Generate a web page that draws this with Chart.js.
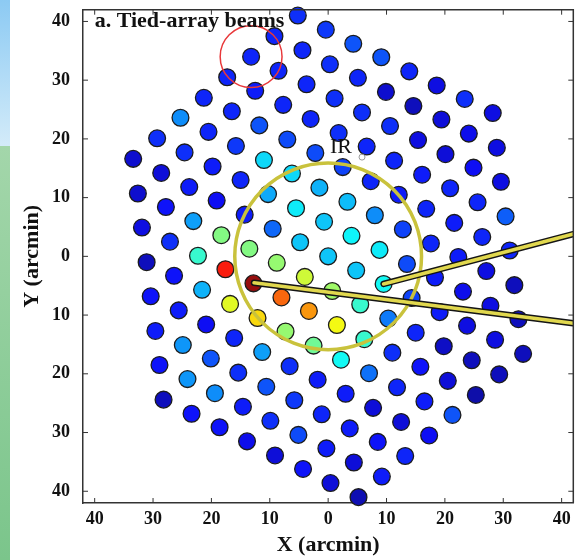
<!DOCTYPE html>
<html>
<head>
<meta charset="utf-8">
<script src="https://cdn.jsdelivr.net/npm/chart.js@4.4.0/dist/chart.umd.min.js"></script>
<style>
html, body { margin: 0; padding: 0; width: 580px; height: 560px; overflow: hidden; background: #fff; }
#wrap { position: absolute; left: 0; top: 0; width: 583px; height: 560px; }
#stripBlue { position: absolute; left: 0; top: 0; width: 10px; height: 146px;
  background: linear-gradient(to bottom, #8ccaf3, #d3ebf9); }
#stripGreen { position: absolute; left: 0; top: 146px; width: 10px; height: 414px;
  background: linear-gradient(to bottom, #a3d6aa, #7bc58b); }
</style>
</head>
<body>
<div id="stripBlue"></div>
<div id="stripGreen"></div>
<div id="wrap"><canvas id="myChart" width="583" height="560"></canvas></div>
<script>
// beam centres in arcmin (upper-left to lower-right rows)
var beamX = [
  -5.2, -0.4, 4.3, 9.1, 13.9, 18.6, 23.4, 28.2,
  -9.2, -4.4, 0.3, 5.1, 9.9, 14.6, 19.4, 24.1, 28.9,
  -13.2, -8.5, -3.7, 1.1, 5.8, 10.6, 15.4, 20.1, 24.9, 29.6,
  -17.3, -12.5, -7.7, -3.0, 1.8, 6.6, 11.3, 16.1, 20.9, 25.6, 30.4,
  -21.3, -16.5, -11.8, -7.0, -2.2, 2.5, 7.3, 12.1, 16.8, 21.6, 26.4, 31.1,
  -25.3, -20.5, -15.8, -11.0, -6.2, -1.5, 3.3, 8.0, 12.8, 17.6, 22.3, 27.1, 31.9,
  -29.3, -24.6, -19.8, -15.0, -10.3, -5.5, -0.7, 4.0, 8.8, 13.5, 18.3, 23.1, 27.8, 32.6,
  -33.4, -28.6, -23.8, -19.1, -14.3, -9.5, -4.8, 0.0, 4.8, 9.5, 14.3, 19.1, 23.8, 28.6, 33.4,
  -32.6, -27.8, -23.1, -18.3, -13.5, -8.8, -4.0, 0.7, 5.5, 10.3, 15.0, 19.8, 24.6, 29.3,
  -31.9, -27.1, -22.3, -17.6, -12.8, -8.0, -3.3, 1.5, 6.2, 11.0, 15.8, 20.5, 25.3,
  -31.1, -26.4, -21.6, -16.8, -12.1, -7.3, -2.5, 2.2, 7.0, 11.8, 16.5, 21.3,
  -30.4, -25.6, -20.9, -16.1, -11.3, -6.6, -1.8, 3.0, 7.7, 12.5, 17.3,
  -29.6, -24.9, -20.1, -15.4, -10.6, -5.8, -1.1, 3.7, 8.5, 13.2,
  -28.9, -24.1, -19.4, -14.6, -9.9, -5.1, -0.3, 4.4, 9.2,
  -28.2, -23.4, -18.6, -13.9, -9.1, -4.3, 0.4, 5.2
];
var beamY = [
  41.0, 38.6, 36.2, 33.9, 31.5, 29.1, 26.8, 24.4,
  37.5, 35.1, 32.7, 30.4, 28.0, 25.6, 23.3, 20.9, 18.5,
  34.0, 31.6, 29.3, 26.9, 24.5, 22.2, 19.8, 17.4, 15.1, 12.7,
  30.5, 28.2, 25.8, 23.4, 21.0, 18.7, 16.3, 13.9, 11.6, 9.2, 6.8,
  27.0, 24.7, 22.3, 19.9, 17.6, 15.2, 12.8, 10.5, 8.1, 5.7, 3.3, 1.0,
  23.6, 21.2, 18.8, 16.4, 14.1, 11.7, 9.3, 7.0, 4.6, 2.2, -0.1, -2.5, -4.9,
  20.1, 17.7, 15.3, 13.0, 10.6, 8.2, 5.9, 3.5, 1.1, -1.3, -3.6, -6.0, -8.4, -10.7,
  16.6, 14.2, 11.8, 9.5, 7.1, 4.7, 2.4, 0.0, -2.4, -4.7, -7.1, -9.5, -11.8, -14.2, -16.6,
  10.7, 8.4, 6.0, 3.6, 1.3, -1.1, -3.5, -5.9, -8.2, -10.6, -13.0, -15.3, -17.7, -20.1,
  4.9, 2.5, 0.1, -2.2, -4.6, -7.0, -9.3, -11.7, -14.1, -16.4, -18.8, -21.2, -23.6,
  -1.0, -3.3, -5.7, -8.1, -10.5, -12.8, -15.2, -17.6, -19.9, -22.3, -24.7, -27.0,
  -6.8, -9.2, -11.6, -13.9, -16.3, -18.7, -21.0, -23.4, -25.8, -28.2, -30.5,
  -12.7, -15.1, -17.4, -19.8, -22.2, -24.5, -26.9, -29.3, -31.6, -34.0,
  -18.5, -20.9, -23.3, -25.6, -28.0, -30.4, -32.7, -35.1, -37.5,
  -24.4, -26.8, -29.1, -31.5, -33.9, -36.2, -38.6, -41.0
];
// colour index of each beam (0 = dark blue ... 1 = dark red, jet map)
var beamPower = [
  0.16, 0.17, 0.20, 0.20, 0.15, 0.10, 0.16, 0.10,
  0.15, 0.15, 0.16, 0.15, 0.08, 0.06, 0.09, 0.11, 0.10,
  0.15, 0.15, 0.15, 0.16, 0.16, 0.16, 0.10, 0.09, 0.12, 0.10,
  0.15, 0.14, 0.15, 0.15, 0.16, 0.15, 0.15, 0.14, 0.15, 0.15, 0.21,
  0.15, 0.15, 0.20, 0.19, 0.19, 0.18, 0.15, 0.14, 0.15, 0.14, 0.15, 0.15,
  0.26, 0.15, 0.17, 0.34, 0.34, 0.30, 0.31, 0.26, 0.18, 0.15, 0.14, 0.10, 0.06,
  0.16, 0.16, 0.14, 0.15, 0.29, 0.36, 0.32, 0.37, 0.36, 0.19, 0.14, 0.11, 0.10, 0.06,
  0.08, 0.09, 0.14, 0.12, 0.14, 0.22, 0.32, 0.32, 0.32, 0.38, 0.18, 0.14, 0.10, 0.10, 0.06,
  0.08, 0.13, 0.28, 0.50, 0.50, 0.52, 0.58, 0.53, 0.42, 0.24, 0.15, 0.07, 0.06, 0.06,
  0.10, 0.16, 0.42, 0.86, 0.98, 0.78, 0.73, 0.62, 0.42, 0.16, 0.13, 0.09, 0.04,
  0.06, 0.13, 0.30, 0.60, 0.66, 0.52, 0.48, 0.38, 0.23, 0.15, 0.14, 0.20,
  0.13, 0.14, 0.12, 0.15, 0.28, 0.16, 0.14, 0.14, 0.09, 0.09, 0.12,
  0.14, 0.27, 0.20, 0.16, 0.20, 0.17, 0.15, 0.14, 0.13, 0.15,
  0.13, 0.27, 0.26, 0.14, 0.16, 0.19, 0.14, 0.09, 0.14,
  0.06, 0.13, 0.13, 0.11, 0.09, 0.13, 0.09, 0.05
];

var tickValues = [-40, -30, -20, -10, 0, 10, 20, 30, 40];

// yellow field circle, red reference circle (arcmin)
var ringCentre = [0, 0];
var ringRadius = 16;
var refCentre = [-13.2, 34.0];
var refRadius = 5.3;

// the two pointer lines
var lineAX = [-12.7, 42];
var lineAY = [-4.5, -11.4];
var lineBX = [9.5, 42];
var lineBY = [-4.7, 3.8];

// jet colour map, toned down a touch like the printed figure
var jet = function(v) {
    var c = function(t) {
        var k = Math.max(0, Math.min(1, t));
        return Math.round(255 * k * 0.92 + 14);
    };
    var r = c(Math.min(4 * v - 1.5, -4 * v + 4.5));
    var g = c(Math.min(4 * v - 0.5, -4 * v + 3.5));
    var b = c(Math.min(4 * v + 0.5, -4 * v + 2.5));
    return 'rgb(' + r + ',' + g + ',' + b + ')';
};

var toPoints = function(xs, ys) {
    return xs.map(function(x, i) { return {x: x, y: ys[i]}; });
};

var tickFont = {family: 'Liberation Serif', weight: 'bold', size: 18};
var titleFont = {family: 'Liberation Serif', weight: 'bold', size: 22};

var overlays = {
    id: 'overlays',
    afterDatasetDraw: function(chart, args) {
        if (args.index !== 0) return;
        var ctx = chart.ctx, xs = chart.scales.x, ys = chart.scales.y;
        var pxPerUnit = xs.getPixelForValue(1) - xs.getPixelForValue(0);
        ctx.save();
        ctx.beginPath();
        ctx.arc(xs.getPixelForValue(ringCentre[0]), ys.getPixelForValue(ringCentre[1]),
            ringRadius * pxPerUnit, 0, Math.PI * 2);
        ctx.strokeStyle = '#c9c23c';
        ctx.lineWidth = 3.5;
        ctx.stroke();
        ctx.beginPath();
        ctx.arc(xs.getPixelForValue(refCentre[0]), ys.getPixelForValue(refCentre[1]),
            refRadius * pxPerUnit, 0, Math.PI * 2);
        ctx.strokeStyle = '#e8383a';
        ctx.lineWidth = 1.5;
        ctx.stroke();
        ctx.restore();
    },
    afterDraw: function(chart) {
        var ctx = chart.ctx, xs = chart.scales.x, ys = chart.scales.y;
        var a = chart.chartArea;
        ctx.save();
        // top / right frame and inward ticks
        ctx.strokeStyle = '#333';
        ctx.lineWidth = 1.5;
        ctx.beginPath();
        ctx.moveTo(a.left, a.top); ctx.lineTo(a.right, a.top); ctx.lineTo(a.right, a.bottom);
        ctx.stroke();
        ctx.lineWidth = 1;
        ctx.beginPath();
        tickValues.forEach(function(v) {
            var px = xs.getPixelForValue(v), py = ys.getPixelForValue(v);
            ctx.moveTo(px, a.bottom); ctx.lineTo(px, a.bottom - 5);
            ctx.moveTo(px, a.top); ctx.lineTo(px, a.top + 5);
            ctx.moveTo(a.left, py); ctx.lineTo(a.left + 5, py);
            ctx.moveTo(a.right, py); ctx.lineTo(a.right - 5, py);
        });
        ctx.stroke();
        // panel label
        ctx.fillStyle = '#111';
        ctx.font = 'bold 22px "Liberation Serif"';
        ctx.textBaseline = 'alphabetic';
        ctx.fillText('a. Tied-array beams', xs.getPixelForValue(-40.0), ys.getPixelForValue(39.0));
        // IR label with small circle
        ctx.font = '22px "Liberation Serif"';
        ctx.fillText('IR', xs.getPixelForValue(0.3), ys.getPixelForValue(17.6));
        ctx.beginPath();
        ctx.arc(xs.getPixelForValue(5.8), ys.getPixelForValue(16.9), 3, 0, Math.PI * 2);
        ctx.strokeStyle = '#999';
        ctx.lineWidth = 1;
        ctx.stroke();
        ctx.restore();
    }
};

var lineSet = function(xs, ys, colour, width, order) {
    return {
        type: 'line',
        data: toPoints(xs, ys),
        borderColor: colour,
        borderWidth: width,
        borderCapStyle: 'round',
        pointRadius: 0,
        order: order
    };
};

var ctx = document.getElementById('myChart').getContext('2d');
var myChart = new Chart(ctx, {
    type: 'scatter',
    data: {
        datasets: [
            {
                data: toPoints(beamX, beamY),
                pointRadius: 8.4,
                pointBackgroundColor: beamPower.map(jet),
                pointBorderColor: '#1c1c1c',
                pointBorderWidth: 1.3,
                clip: false,
                order: 5
            },
            lineSet(lineAX, lineAY, '#151515', 6.5, 4),
            lineSet(lineAX, lineAY, '#e1d84e', 3.5, 3),
            lineSet(lineBX, lineBY, '#151515', 6.5, 2),
            lineSet(lineBX, lineBY, '#e1d84e', 3.5, 1)
        ]
    },
    options: {
        responsive: false,
        animation: false,
        devicePixelRatio: 1,
        layout: {padding: {top: 3, right: 0, left: 0, bottom: 0}},
        plugins: {legend: {display: false}, tooltip: {enabled: false}},
        scales: {
            x: {
                type: 'linear',
                min: -42,
                max: 42,
                afterBuildTicks: function(scale) {
                    scale.ticks = tickValues.map(function(v) { return {value: v}; });
                },
                afterFit: function(scale) {
                    scale.height = 57;
                    scale.paddingLeft = 0;
                    scale.paddingRight = 0;
                },
                grid: {display: false},
                border: {display: true, color: '#333', width: 1.5},
                ticks: {
                    color: '#111',
                    font: tickFont,
                    padding: -2,
                    maxRotation: 0,
                    callback: function(v) { return Math.abs(v); }
                },
                title: {display: true, text: 'X (arcmin)', color: '#111', font: titleFont,
                    padding: {top: 0, bottom: 1}}
            },
            y: {
                type: 'linear',
                min: -42,
                max: 42,
                afterBuildTicks: function(scale) {
                    scale.ticks = tickValues.map(function(v) { return {value: v}; });
                },
                afterFit: function(scale) {
                    scale.width = 83;
                    scale.paddingTop = 0;
                    scale.paddingBottom = 0;
                },
                grid: {display: false},
                border: {display: true, color: '#333', width: 1.5},
                ticks: {
                    color: '#111',
                    font: tickFont,
                    padding: 5,
                    callback: function(v) { return Math.abs(v); }
                },
                title: {display: true, text: 'Y (arcmin)', color: '#111', font: titleFont,
                    padding: {top: 19, bottom: 0}}
            }
        }
    },
    plugins: [overlays]
});
</script>
</body>
</html>
